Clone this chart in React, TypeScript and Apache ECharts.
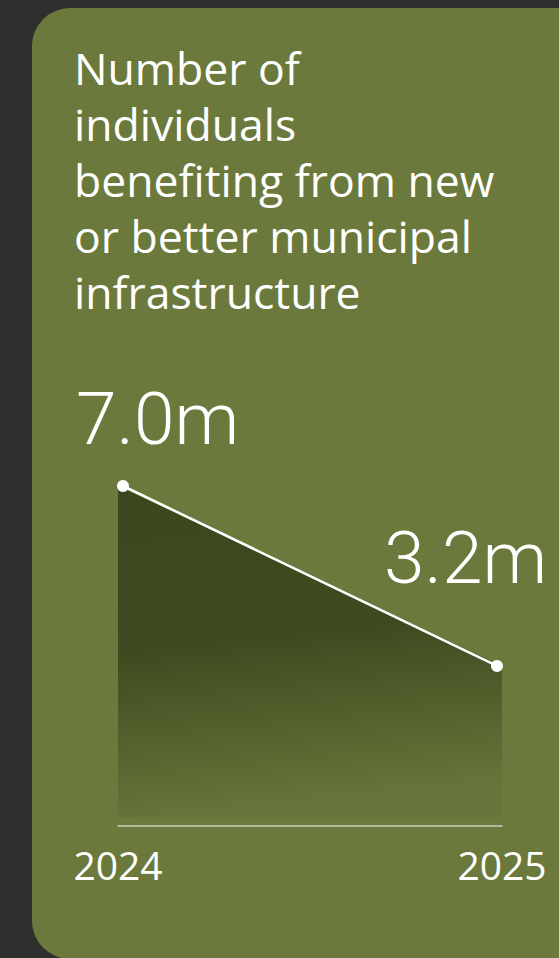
import React, { useEffect, useRef } from "react";
import * as echarts from "echarts";

const titleText = "Number of\nindividuals\nbenefiting from new\nor better municipal\ninfrastructure";
const years = ["2024", "2025"];
const values = [7.0, 3.2];
const valueLabels = ["7.0m", "3.2m"];

const FONT = "'Open Sans', Roboto, sans-serif";
const VFONT = "Roboto, 'Open Sans', sans-serif";

export default function App() {
  const ref = useRef<HTMLDivElement>(null);
  useEffect(() => {
    document.body.style.margin = "0";
    const chart = echarts.init(ref.current!, null, { renderer: "svg" });
    const yMin = -0.18;
    const yMax = 7.0;
    chart.setOption({
      animation: false,
      backgroundColor: "#2f2f2f",
      graphic: [
        {
          type: "rect",
          z: -10,
          shape: { x: 32, y: 8, width: 600, height: 951, r: 38 },
          style: { fill: "#6b7a3c" },
        },
      ],
      title: {
        text: titleText,
        left: 74,
        top: 39,
        padding: 0,
        textStyle: {
          color: "#ffffff",
          fontFamily: FONT,
          fontWeight: "normal",
          fontSize: 44.5,
          lineHeight: 56,
        },
      },
      grid: [
        { left: 118, width: 384, top: 486, height: 340 },
        { left: 123, width: 374, top: 486, height: 340 },
      ],
      xAxis: [
        {
          type: "category",
          gridIndex: 0,
          data: years,
          boundaryGap: false,
          axisLine: { onZero: false, lineStyle: { color: "#cdd1bd", width: 1.5 } },
          axisTick: { show: false },
          axisLabel: {
            color: "#ffffff",
            fontFamily: FONT,
            fontSize: 39,
            margin: 19,
          },
          splitLine: { show: false },
        },
        {
          type: "category",
          gridIndex: 1,
          data: years,
          boundaryGap: false,
          show: false,
        },
      ],
      yAxis: [
        { type: "value", gridIndex: 0, min: yMin, max: yMax, show: false, splitLine: { show: false } },
        { type: "value", gridIndex: 1, min: yMin, max: yMax, show: false, splitLine: { show: false } },
      ],
      series: [
        {
          type: "line",
          xAxisIndex: 0,
          yAxisIndex: 0,
          data: values,
          symbol: "none",
          lineStyle: { width: 0, opacity: 0 },
          z: 1,
          areaStyle: {
            opacity: 1,
            color: new echarts.graphic.LinearGradient(0, 0, 0.12, 1, [
              { offset: 0, color: "#3b481e" },
              { offset: 0.5, color: "#3e4b20" },
              { offset: 1, color: "#66753a" },
            ]),
          },
        },
        {
          type: "line",
          xAxisIndex: 1,
          yAxisIndex: 1,
          z: 3,
          data: values.map((v, i) => ({
            value: v,
            label: {
              show: true,
              position: "inside",
              align: "left",
              verticalAlign: "middle",
              offset: i === 0 ? [-47, -67] : [-113, -108],
              formatter: valueLabels[i],
              color: "#ffffff",
              fontFamily: VFONT,
              fontWeight: 300,
              fontSize: 73,
            },
          })),
          symbol: "circle",
          symbolSize: 12,
          itemStyle: { color: "#ffffff" },
          lineStyle: { color: "#ffffff", width: 2.5 },
        },
      ],
    });
    return () => chart.dispose();
  }, []);
  return (
    <div
      ref={ref}
      style={{ position: "fixed", left: 0, top: 0, width: 559, height: 958 }}
    />
  );
}
